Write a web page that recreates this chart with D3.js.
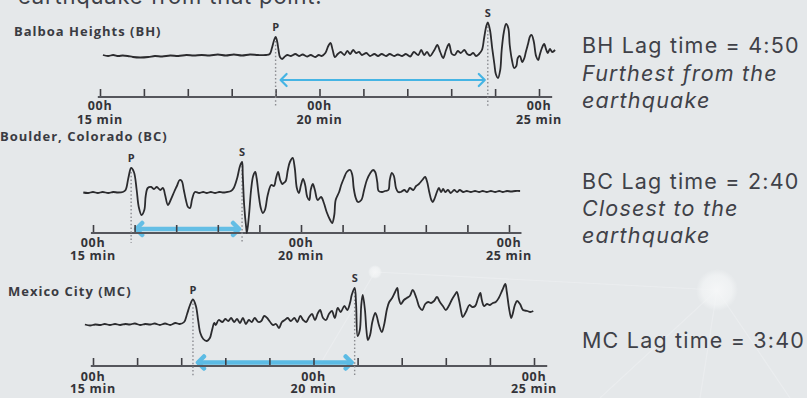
<!DOCTYPE html>
<html><head><meta charset="utf-8">
<script src="https://cdn.jsdelivr.net/npm/d3@7"></script>
<style>
html,body{margin:0;padding:0;background:#e5e8ea;overflow:hidden}
svg{display:block}
</style></head><body>
<svg id="c" width="807" height="398"></svg>
<script>
// ---- data (time in seconds after 00h 15 min, amplitude in relative units) ----
const tickSeconds = [0,60,120,180,240,300,360,420,480,540,600];
const labelSeconds = [0,300,600];
const tickHourLabel = "00h";
const tickMinuteLabels = ["15 min","20 min","25 min"];
const stationNames = ["Balboa Heights (BH)", "Boulder, Colorado (BC)", "Mexico City (MC)"];
const pArrival = [240, 55, 136];
const sArrival = [530, 215, 356];
const lagTexts = [
  ["BH Lag time = 4:50", "Furthest from the", "earthquake"],
  ["BC Lag time = 2:40", "Closest to the", "earthquake"],
  ["MC Lag time = 3:40"]
];
const headline = "earthquake from that point.";

const bhTrace = [[4,0],[11,-1],[18,0],[25,-1],[31,-0.5],[38,-1],[45,-2],[55,-2.5],[66,-2],[75,-1],[85,-1.5],[96,-0.5],[107,-1],[118,0],[128,-0.5],[139,0],[150,-0.5],[161,0.5],[172,-0.5],[183,0.5],[194,-0.5],[205,0.5],[216,0],[227,0],[232,1],[235,7],[238,15],[240,18],[242,14],[244,5],[246,-2],[249,-4],[252,-2],[256,0],[261,-1],[267,1],[272,-1],[277,0.5],[283,-1.5],[288,0],[294,-2],[299,0],[303,-1],[308,2],[312,9],[315,12],[318,5],[321,-2],[325,1],[329,3],[334,0],[338,4],[342,1],[346,5],[350,2],[354,3],[358,0],[364,2],[369,-1],[375,1],[380,-1],[385,1],[391,-1],[396,1],[402,-1],[407,0.5],[413,-1],[418,1],[424,-1.5],[429,3],[435,0],[439,5],[443,0],[447,3],[451,-1],[457,5],[461,10],[465,3],[469,-3],[473,5],[477,11],[481,1],[485,0],[489,4],[493,2],[498,5],[502,1],[506,0],[510,2],[514,-1],[518,1],[522,5],[525,17],[528,29],[530,32.5],[533,25],[536,7],[539,-9],[541,-19],[544,-23],[547,-15],[549,5],[552,23],[555,31],[558,27],[560,10],[563,-5],[566,-13],[569,-11],[571,-3],[574,-1],[577,-7],[580,-3],[582,3],[585,11],[588,19],[590,20],[593,13],[596,-1],[599,-5],[601,0],[604,7],[607,11],[610,5],[612,2],[615,6],[618,3],[622,5]];

const bcTrace = [[-14,-0.5],[-7,-1],[0,0],[7,-1],[14,0],[22,-1],[29,0],[36,-0.5],[43,0],[47,2],[51,14],[55,24],[59,20],[63,2],[66,-15],[70,-23],[74,-18],[76,-4],[79,4],[84,5],[88,3],[92,5],[97,2],[101,4],[104,-3],[108,-13],[112,-8],[117,0],[121,6],[125,12],[128,11],[131,2],[134,-8],[137,-15],[140,-16],[143,-7],[147,0],[153,-1],[159,0],[164,-1],[170,0],[176,-1],[182,0],[187,-0.5],[193,0],[199,1],[203,4],[208,14],[212,26],[215,30],[216,17],[218,-13],[221,-36],[222,-41],[225,-23],[228,2],[231,16],[234,20],[236,14],[239,-3],[242,-16],[245,-21],[248,-18],[252,-3],[257,7],[261,6],[264,14],[267,20],[270,12],[273,8],[275,9],[278,11],[281,22],[284,30],[288,34],[291,24],[294,4],[297,-1],[300,7],[303,13],[306,7],[309,-5],[312,-8],[314,2],[317,8],[320,2],[324,-8],[329,-5],[333,-11],[337,-20],[342,-28],[345,-31],[348,-23],[350,-8],[355,0],[358,7],[362,14],[366,20],[371,22],[374,17],[376,4],[379,-6],[382,-10],[387,-8],[391,2],[395,12],[400,19],[404,22],[407,20],[410,10],[412,1],[417,0],[421,1],[426,2],[428,12],[431,19],[434,16],[437,4],[440,0],[444,0],[449,2],[453,0],[457,4],[462,2],[466,6],[470,8],[475,12],[479,15],[482,10],[485,0],[488,-8],[490,-10],[493,-6],[496,0],[499,4],[502,0],[505,3],[508,0],[512,2],[516,-1],[521,2],[525,0],[529,2],[534,0],[539,1],[545,0],[551,1],[557,0],[562,1],[568,0],[574,1],[580,0],[586,1],[591,0],[597,1],[603,0.5],[609,1],[616,1]];

const mcTrace = [[-11,0],[-4,-1],[3,0],[10,-0.5],[16,0.5],[23,-0.5],[30,0.5],[37,-0.5],[44,0.5],[50,0],[57,1],[64,-0.5],[71,0.5],[78,0],[84,1],[91,-0.5],[98,1],[105,-0.5],[112,1.5],[118,0.5],[124,2.5],[128,10.5],[132,19.5],[136,25],[140,18.5],[143,4.5],[146,-8.5],[150,-14.5],[155,-16.5],[159,-13.5],[162,-5.5],[165,1.5],[167,-0.5],[171,4.5],[176,2.5],[180,5.5],[184,3.5],[188,6.5],[192,2.5],[196,5.5],[200,1.5],[204,6.5],[208,0.5],[212,4.5],[216,2.5],[220,6.5],[225,2.5],[229,3.5],[233,8.5],[237,6.5],[241,2.5],[245,-0.5],[249,0.5],[253,-3.5],[257,2.5],[261,4.5],[265,6.5],[269,3.5],[274,6.5],[278,2.5],[282,8.5],[286,4.5],[290,2.5],[294,7.5],[298,10.5],[302,4.5],[306,11.5],[309,14.5],[313,6.5],[317,4.5],[321,10.5],[325,13.5],[329,6.5],[333,16.5],[337,12.5],[342,18.5],[346,14.5],[350,22.5],[352,29.5],[356,36.5],[358,19.5],[360,-11.5],[363,-5.5],[365,19.5],[367,29.5],[370,14.5],[372,-5.5],[374,-15.5],[377,-10.5],[380,2.5],[384,11.5],[386,8.5],[389,-0.5],[393,-7.5],[396,-0.5],[400,15.5],[403,22.5],[407,26.5],[411,32.5],[414,36.5],[416,26.5],[419,20.5],[423,24.5],[427,26.5],[431,28.5],[435,34.5],[440,26.5],[444,17.5],[448,14.5],[452,20.5],[456,22.5],[460,21.5],[464,23.5],[468,27.5],[472,22.5],[476,18.5],[480,14.5],[484,18.5],[488,24.5],[493,30.5],[495,32.5],[498,24.5],[501,12.5],[503,7.5],[508,13.5],[512,19.5],[516,17.5],[520,18.5],[524,26.5],[527,31.5],[529,24.5],[532,18.5],[536,20.5],[540,19.5],[544,21.5],[548,22.5],[552,26.5],[557,34.5],[561,40.5],[563,32.5],[566,16.5],[569,6.5],[571,10.5],[574,19.5],[577,23.5],[581,20.5],[585,14.5],[591,13.5],[595,12.5],[599,13.5]];

const traces = [bhTrace, bcTrace, mcTrace];

// ---- layout ----
const panels = [
  {x0:100, x1:539, base:55,    axis:97,  title:[14,36],  arrowOff:17, arrowW:2.2, arrowOp:1,    labelDy:[13,26.5]},
  {x0:93,  x1:509, base:192,   axis:233, title:[0,141],  arrowOff:4,  arrowW:4.5, arrowOp:0.8,  labelDy:[14,27]},
  {x0:93,  x1:534, base:324.5, axis:366, title:[8,296],  arrowOff:3.5,arrowW:4.5, arrowOp:0.85, labelDy:[14.5,27]}
];
const textBlocks = [ {x:582, y:[53,81,108]}, {x:582, y:[189,216,243]}, {x:582, y:[348]} ];

const svg = d3.select("#c");
const ink = "#2b2b2e", labelInk = "#3a3b42", blue = "#45b4e4";

// background decoration
const defs = svg.append("defs");
const rg = defs.append("radialGradient").attr("id","glow");
rg.append("stop").attr("offset","0%").attr("stop-color","#f6f7f8").attr("stop-opacity",0.95);
rg.append("stop").attr("offset","70%").attr("stop-color","#f3f5f6").attr("stop-opacity",0.7);
rg.append("stop").attr("offset","100%").attr("stop-color","#f3f5f6").attr("stop-opacity",0);
const deco = svg.append("g");
deco.append("rect").attr("width",807).attr("height",398).attr("fill","#e5e8ea");
const decoLines = [[[717,290],[600,398]],[[717,290],[700,398]],[[717,290],[790,398]],[[375,272],[300,398]],[[375,272],[717,290]]];
decoLines.forEach(l => deco.append("line").attr("x1",l[0][0]).attr("y1",l[0][1]).attr("x2",l[1][0]).attr("y2",l[1][1]).attr("stroke","#eef0f2").attr("stroke-width",1.2).attr("opacity",0.7));
deco.append("circle").attr("cx",717).attr("cy",290).attr("r",21).attr("fill","url(#glow)");
deco.append("circle").attr("cx",375).attr("cy",272).attr("r",7).attr("fill","url(#glow)");

// headline (cut at top, as in the source)
svg.append("text").attr("x",18).attr("y",4).text(headline)
  .attr("font-family","Inter, 'Open Sans', sans-serif").attr("font-size",22).attr("letter-spacing",0.8).attr("fill","#3d4048");

const line = d3.line().curve(d3.curveCatmullRom.alpha(0.5));

panels.forEach((p,i) => {
  const g = svg.append("g");
  const x = d3.scaleLinear().domain([0,600]).range([p.x0,p.x1]);
  const y = d3.scaleLinear().domain([-40,40]).range([p.base+40,p.base-40]);
  const tr = traces[i];

  // title
  g.append("text").attr("x",p.title[0]).attr("y",p.title[1]).text(stationNames[i])
    .attr("font-family","'Open Sans', sans-serif").attr("font-weight",700).attr("font-size",13)
    .attr("letter-spacing",1.0).attr("fill",labelInk);

  const peakAt = t => d3.max(tr.filter(d => Math.abs(d[0]-t) <= 3), d => d[1]);
  const pPk = peakAt(pArrival[i]), sPk = peakAt(sArrival[i]);

  // lag arrow (behind axis)
  const ay = p.axis - p.arrowOff;
  const xa = x(pArrival[i]) + 5, xb = x(sArrival[i]) - 3;
  const ag = g.append("g").attr("stroke",blue).attr("fill","none").attr("stroke-linecap","round")
    .attr("stroke-linejoin","round").attr("opacity",p.arrowOp);
  ag.append("line").attr("x1",xa+1).attr("x2",xb-1).attr("y1",ay).attr("y2",ay).attr("stroke-width",p.arrowW);
  ag.append("path").attr("d",`M${xa+6},${ay-6}L${xa},${ay}L${xa+6},${ay+6}`).attr("stroke-width",p.arrowW);
  ag.append("path").attr("d",`M${xb-6},${ay-6}L${xb},${ay}L${xb-6},${ay+6}`).attr("stroke-width",p.arrowW);

  // axis
  const axis = d3.axisBottom(x).tickValues(tickSeconds).tickSize(-9).tickSizeOuter(0).tickFormat("");
  const axG = g.append("g").attr("transform",`translate(0,${p.axis+1})`).call(axis);
  axG.select(".domain").remove();
  axG.selectAll(".tick line").attr("stroke","#3f3f44").attr("stroke-width",1.6);
  g.append("line").attr("x1",x(-3)).attr("x2",x(618)).attr("y1",p.axis).attr("y2",p.axis)
    .attr("stroke","#55565c").attr("stroke-width",2.2);

  labelSeconds.forEach((s,k) => {
    const t = g.append("text").attr("text-anchor","middle").attr("font-family","'Open Sans', sans-serif")
      .attr("font-weight",700).attr("font-size",12.5).attr("letter-spacing",0.7).attr("fill","#333338");
    t.append("tspan").attr("x",x(s)).attr("y",p.axis+p.labelDy[0]).text(tickHourLabel);
    t.append("tspan").attr("x",x(s)).attr("y",p.axis+p.labelDy[1]).text(tickMinuteLabels[k]);
  });

  // dotted arrival lines
  [[pArrival[i],pPk],[sArrival[i],sPk]].forEach(([t,pk]) => {
    g.append("line").attr("x1",x(t)).attr("x2",x(t)).attr("y1",y(pk)+4).attr("y2",p.axis+10)
      .attr("stroke","#8a8b90").attr("stroke-width",1.4).attr("stroke-dasharray","1.5,2.2");
  });

  // waveform
  g.append("path").attr("d",line(tr.map(d => [x(d[0]),y(d[1])])))
    .attr("fill","none").attr("stroke",ink).attr("stroke-width",1.8).attr("stroke-linejoin","round");

  // P / S labels
  [["P",pArrival[i],pPk],["S",sArrival[i],sPk]].forEach(([lab,t,pk]) => {
    g.append("text").attr("x",x(t)).attr("y",y(pk)-6).attr("text-anchor","middle").text(lab)
      .attr("font-family","'Open Sans', sans-serif").attr("font-weight",700).attr("font-size",11).attr("fill","#333338");
  });

  // lag text
  const tb = textBlocks[i];
  lagTexts[i].forEach((s,k) => {
    svg.append("text").attr("x",tb.x).attr("y",tb.y[k]).text(s)
      .attr("font-family","Inter, 'Open Sans', sans-serif").attr("font-size",21.5).attr("letter-spacing",1.2)
      .attr("font-style", k === 0 ? "normal" : "italic").attr("fill","#3f4148");
  });
});
</script>
</body></html>
